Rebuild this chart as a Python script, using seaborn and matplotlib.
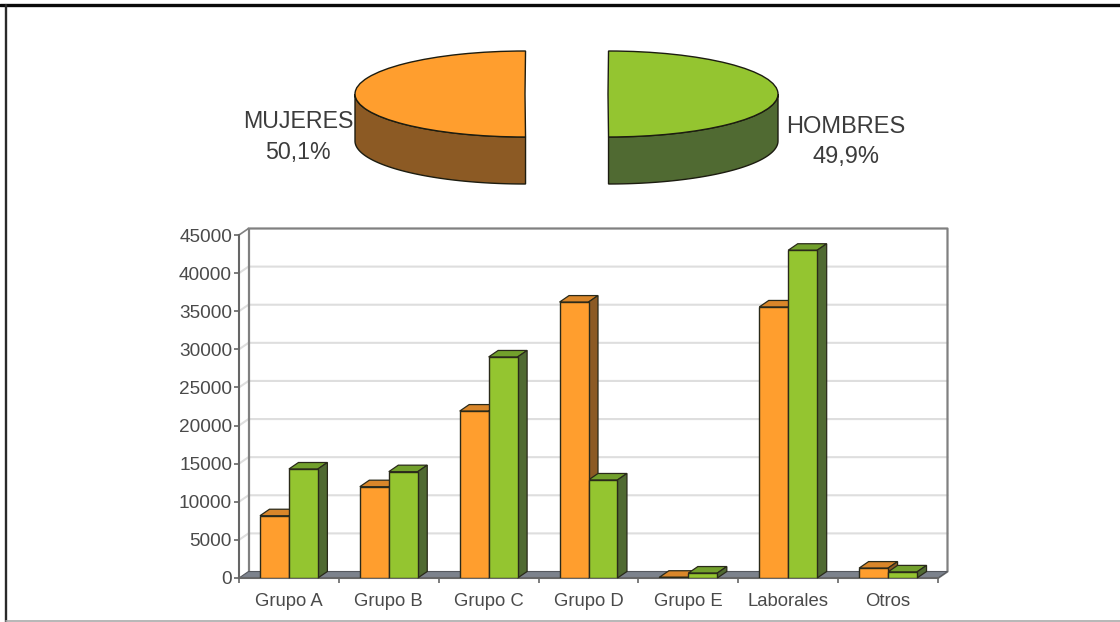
import numpy as np
import pandas as pd
import matplotlib
matplotlib.use("Agg")
import matplotlib.pyplot as plt
from matplotlib.patches import Polygon
from matplotlib.lines import Line2D
import seaborn as sns

categories = ["Grupo A", "Grupo B", "Grupo C", "Grupo D", "Grupo E", "Laborales", "Otros"]
mujeres = [8170, 11980, 21900, 36200, 100, 35560, 1300]
hombres = [14300, 13950, 29000, 12860, 650, 43000, 800]
pie_labels = ["MUJERES\n50,1%", "HOMBRES\n49,9%"]
pie_values = [50.1, 49.9]
yticks = list(range(0, 45001, 5000))

ORANGE, ORANGE_TOP, ORANGE_SIDE = "#FF9E2E", "#D9862A", "#8C5A24"
GREEN, GREEN_TOP, GREEN_SIDE = "#94C530", "#72A02C", "#506A32"
W, H = 1120, 622

sns.set_theme(style="white")
plt.rcParams["font.family"] = ["Liberation Sans", "DejaVu Sans"]
fig = plt.figure(figsize=(W / 100, H / 100), dpi=100, facecolor="white")


def box(l, t, r, b):
    return [l / W, 1 - b / H, (r - l) / W, (b - t) / H]


# ---------- bar chart (front plane of the 3D box) ----------
L, R, T, B = 239, 938, 235, 578
ax = fig.add_axes(box(L, T, R, B), facecolor="none")
df = pd.DataFrame({
    "cat": categories * 2,
    "sexo": ["M"] * len(categories) + ["H"] * len(categories),
    "v": mujeres + hombres,
})
sns.barplot(data=df, x="cat", y="v", hue="sexo", order=categories, hue_order=["M", "H"],
            palette=[ORANGE, GREEN], width=0.58, gap=0, legend=False, ax=ax,
            edgecolor="#2a2a1a", linewidth=1.0, saturation=1)
ax.set_xlim(-0.5, len(categories) - 0.5)
ax.set_ylim(0, 45000)
ax.set_xlabel("")
ax.set_ylabel("")

ux = (R - L) / len(categories)   # px per category
uy = (B - T) / 45000             # px per value
dx, dy = 9.5 / ux, 6.5 / uy      # depth of the box in data units
x0, x1 = -0.5, len(categories) - 0.5

# floor and back wall
ax.add_patch(Polygon([(x0, 0), (x0 + dx, dy), (x1 + dx, dy), (x1, 0)], closed=True,
                     facecolor="#7C828C", edgecolor="#55585e", lw=0.8, clip_on=False, zorder=1))
for v in yticks[1:-1]:
    ax.plot([x0, x0 + dx, x1 + dx], [v, v + dy, v + dy], color="#DEDEDE", lw=1.5,
            clip_on=False, zorder=0.5)
wall = "#808080"
ax.plot([x0 + dx, x1 + dx, x1 + dx, x1], [45000 + dy, 45000 + dy, dy, 0], color=wall, lw=1.6,
        clip_on=False, zorder=0.6)
ax.plot([x0 + dx, x0 + dx], [dy, 45000 + dy], color=wall, lw=1.6, clip_on=False, zorder=0.6)
ax.plot([x0, x0 + dx], [45000, 45000 + dy], color=wall, lw=1.2, clip_on=False, zorder=0.6)

# 3D sides and tops derived from the seaborn bars
for k, (container, top_c, side_c) in enumerate(zip(ax.containers,
                                                  [ORANGE_TOP, GREEN_TOP],
                                                  [ORANGE_SIDE, GREEN_SIDE])):
    for p in container:
        xa, w, h = p.get_x(), p.get_width(), p.get_height()
        xb = xa + w
        p.set_zorder(3)
        ax.add_patch(Polygon([(xa, h), (xa + dx, h + dy), (xb + dx, h + dy), (xb, h)], closed=True,
                             facecolor=top_c, edgecolor="#2a2a1a", lw=0.9, zorder=2 + k / 10, clip_on=False))
        ax.add_patch(Polygon([(xb, 0), (xb + dx, dy), (xb + dx, h + dy), (xb, h)], closed=True,
                             facecolor=side_c, edgecolor="#2a2a1a", lw=0.9, zorder=2 + k / 10, clip_on=False))

sns.despine(ax=ax, top=True, right=True)
for s in ["left", "bottom"]:
    ax.spines[s].set_color("#666666")
    ax.spines[s].set_linewidth(1.5)
ax.spines["bottom"].set_zorder(1.5)
ax.set_yticks(yticks)
ax.set_xticks(np.arange(-0.5, len(categories)), minor=True)
ax.tick_params(axis="x", which="major", length=0, pad=11, labelsize=13.3, labelcolor="#4a4a4a")
ax.tick_params(axis="x", which="minor", length=3.5, width=1.2, color="#666666", bottom=True)
ax.tick_params(axis="y", length=3.5, width=1.2, color="#666666", left=True, pad=1.5,
               labelsize=13.7, labelcolor="#4a4a4a")

# ---------- 3D pie ----------
cx, cy, rx, ry, depth = 566.5, 94, 170, 43, 47
pl, pr, pt, pb = 300, 840, 30, 200
pax = fig.add_axes(box(pl, pt, pr, pb), facecolor="none")
explode = 41.5 / rx
wedges, _ = pax.pie(pie_values, startangle=89.82, explode=[explode, explode], radius=1,
                    colors=[ORANGE, GREEN], wedgeprops=dict(edgecolor="#1c1c10", linewidth=1.0, zorder=3))
pax.set_aspect("auto")
pax.set_xlim((pl - cx) / rx, (pr - cx) / rx)
pax.set_ylim((cy - pb) / ry, (cy - pt) / ry)

# rims: arcs follow the shares of the pie
split = 89.82 + 360 * pie_values[0] / sum(pie_values)
d = depth / ry
for wedge, a0, a1, col in [(wedges[0], 180, split, ORANGE_SIDE), (wedges[1], split, 360, GREEN_SIDE)]:
    th = np.radians(np.linspace(a0, a1, 80))
    ox, oy = wedge.center
    xs = ox + np.cos(th)
    ys = oy + np.sin(th)
    verts = np.r_[np.c_[xs, ys], np.c_[xs, ys - d][::-1]]
    pax.add_patch(Polygon(verts, closed=True, facecolor=col, edgecolor="#1c1c10", lw=1.0, zorder=2))

txt = "#3c3c3c"
fig.text(298 / W, 1 - 137 / H, pie_labels[0], ha="center", va="center", fontsize=16.7,
         color=txt, linespacing=1.42)
fig.text(846 / W, 1 - 142 / H, pie_labels[1], ha="center", va="center", fontsize=17,
         color=txt, linespacing=1.42)

# ---------- page frame ----------
fig.add_artist(Line2D([0, 1], [1 - 5 / H] * 2, color="#0a0a0a", lw=2.4))
fig.add_artist(Line2D([6.3 / W] * 2, [0, 1 - 5 / H], color="#2a2a2a", lw=1.7))
fig.add_artist(Line2D([6 / W, 1], [1 - 621 / H] * 2, color="#aaaaaa", lw=1.2))

fig.savefig("out.png", dpi=100)
